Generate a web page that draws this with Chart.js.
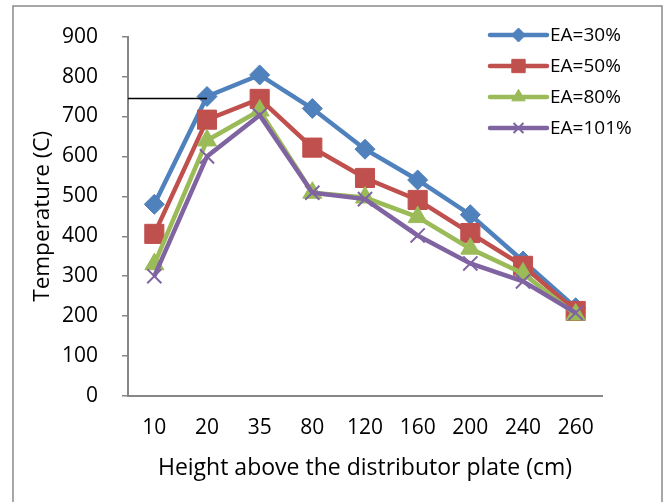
<!DOCTYPE html>
<html>
<head>
<meta charset="utf-8">
<script src="https://cdn.jsdelivr.net/npm/chart.js@4/dist/chart.umd.min.js"></script>
<style>
  body { margin: 0; background: #fff; }
  canvas { display: block; }
</style>
</head>
<body>
<canvas id="chart" width="669" height="502"></canvas>
<script>
// heights above the distributor plate (cm)
const heights = ['10', '20', '35', '80', '120', '160', '200', '240', '260'];
// temperature (C) per excess air ratio
const ea30 = [480, 750, 804, 720, 618, 541, 454, 338, 221];
const ea50 = [406, 692, 744, 622, 546, 491, 408, 326, 213];
const ea80 = [330, 640, 715, 509, 497, 448, 369, 307, 204];
const ea101 = [300, 600, 703, 509, 493, 402, 332, 287, 208];
const seriesNames = ['EA=30%', 'EA=50%', 'EA=80%', 'EA=101%'];
const yMin = 0, yMax = 900, yStep = 100;
// stray black line left in the original figure
const markerLineValue = 745;

const colors = ['#4F81BD', '#C0504D', '#9BBB59', '#8064A2'];
const styles = [
  { pointStyle: 'rectRot', radius: 10, borderWidth: 1 },
  { pointStyle: 'rect', radius: 13.5, borderWidth: 1 },
  { pointStyle: 'triangle', radius: 11, borderWidth: 1 },
  { pointStyle: 'crossRot', radius: 10, borderWidth: 2 }
];
const allSeries = [ea30, ea50, ea80, ea101];

Chart.defaults.font.family = "'Open Sans', sans-serif";
Chart.defaults.color = '#000';

const datasets = allSeries.map((vals, i) => ({
  label: seriesNames[i],
  data: vals,
  borderColor: colors[i],
  backgroundColor: colors[i],
  borderWidth: 4.5,
  tension: 0,
  pointStyle: styles[i].pointStyle,
  pointRadius: styles[i].radius,
  pointBorderWidth: styles[i].borderWidth,
  pointBackgroundColor: colors[i],
  pointBorderColor: colors[i],
  order: allSeries.length - i
}));

const framePlugin = {
  id: 'frame',
  beforeDraw(chart) {
    const ctx = chart.ctx;
    ctx.save();
    ctx.fillStyle = '#fff';
    ctx.fillRect(0, 0, chart.width, chart.height);
    ctx.strokeStyle = '#8a8a8a';
    ctx.lineWidth = 1.5;
    ctx.strokeRect(13, 6, 649, 520);
    ctx.restore();
  },
  afterDraw(chart) {
    const ctx = chart.ctx;
    const x = chart.scales.x, y = chart.scales.y;
    ctx.save();
    // black horizontal line
    const ly = Math.round(y.getPixelForValue(markerLineValue)) + 0.5;
    ctx.strokeStyle = '#000';
    ctx.lineWidth = 1.5;
    ctx.beginPath();
    ctx.moveTo(chart.chartArea.left, ly);
    ctx.lineTo(x.getPixelForValue(1), ly);
    ctx.stroke();

    // legend
    const lx = 490, lw = 57, top = 35, gap = 31;
    ctx.font = "19px 'Open Sans', sans-serif";
    ctx.textBaseline = 'middle';
    ctx.textAlign = 'left';
    seriesNames.forEach((name, i) => {
      const cy = top + i * gap;
      ctx.strokeStyle = colors[i];
      ctx.fillStyle = colors[i];
      ctx.lineWidth = 4.5;
      ctx.lineCap = 'round';
      ctx.beginPath();
      ctx.moveTo(lx, cy);
      ctx.lineTo(lx + lw, cy);
      ctx.stroke();
      ctx.lineCap = 'butt';
      ctx.lineWidth = styles[i].borderWidth;
      Chart.helpers.drawPoint(ctx, {
        pointStyle: styles[i].pointStyle,
        radius: styles[i].radius * 0.7,
        rotation: 0,
        borderWidth: styles[i].borderWidth
      }, lx + lw / 2, cy);
      ctx.fillStyle = '#000';
      ctx.fillText(name, lx + lw + 3, cy + 1);
    });
    ctx.restore();
  }
};

new Chart(document.getElementById('chart'), {
  type: 'line',
  data: { labels: heights, datasets: datasets },
  options: {
    responsive: false,
    animation: false,
    layout: { padding: { left: 13, top: 32, right: 67, bottom: 22 } },
    plugins: { legend: { display: false }, tooltip: { enabled: false } },
    scales: {
      x: {
        offset: true,
        grid: { drawOnChartArea: false, drawTicks: false },
        border: { color: '#868686', width: 2 },
        ticks: { padding: 19, font: { size: 21 }, color: '#000' },
        title: { display: true, text: 'Height above the distributor plate (cm)', font: { size: 23 }, color: '#000', padding: { top: 0, bottom: -2 } },
        afterFit(s) { s.height = 84; }
      },
      y: {
        min: yMin,
        max: yMax,
        ticks: { stepSize: yStep, padding: 24, font: { size: 21 }, color: '#000' },
        grid: { drawOnChartArea: false, tickLength: 6, color: '#868686', lineWidth: 1.5 },
        border: { color: '#868686', width: 2 },
        title: { display: true, text: 'Temperature (C)', font: { size: 22.5 }, color: '#000', padding: { top: 16, bottom: 0 } },
        afterFit(s) { s.width = 115; }
      }
    }
  },
  plugins: [framePlugin]
});
</script>
</body>
</html>
